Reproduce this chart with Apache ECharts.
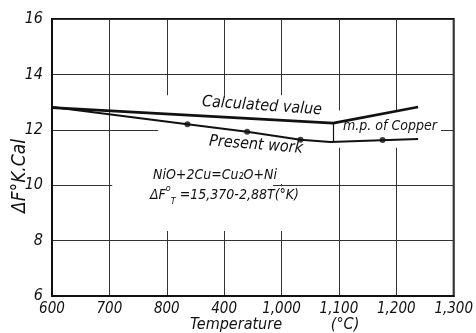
<!DOCTYPE html>
<html>
<head>
<meta charset="utf-8">
<script src="https://cdn.jsdelivr.net/npm/echarts@6/dist/echarts.min.js"></script>
<style>
  html, body { margin: 0; padding: 0; background: #fff; }
  #chart { width: 476px; height: 333px; }
</style>
</head>
<body>
<div id="chart"></div>
<script>
// tick labels as printed on the plate (the 900 tick reads "400")
var xTicks = [600, 700, 800, 900, 1000, 1100, 1200, 1300];
var xTickLabels = ['600', '700', '800', '400', '1,000', '1,100', '1,200', '1,300'];

// calculated value (straight segments, kink at m.p. of copper)
var calcTemp = [600, 1090, 1238];
var calcValue = [12.8, 12.24, 12.82];

// present work curve
var workTemp = [600, 836, 940, 1033, 1085, 1238];
var workValue = [12.82, 12.2, 11.93, 11.64, 11.56, 11.67];

// measured points
var pointTemp = [836, 940, 1033, 1176];
var pointValue = [12.2, 11.93, 11.64, 11.63];

// melting point of copper marker
var mpTemp = 1090;
var mpRange = [12.22, 11.58];

function pairs(xs, ys) {
  return xs.map(function (x, i) { return [x, ys[i]]; });
}

var FONT = '"Liberation Sans Narrow", "DejaVu Sans Condensed", sans-serif';

var chart = echarts.init(document.getElementById('chart'));

function label(x, y, text, size, rot) {
  return {
    type: 'text', x: x, y: y, rotation: rot || 0, z: 100,
    style: { text: text, align: 'center', verticalAlign: 'middle',
      font: 'italic ' + size + 'px ' + FONT, fill: '#111' }
  };
}

var option = {
  backgroundColor: '#fff',
  animation: false,
  grid: {
    left: 52, right: 18, top: 19, bottom: 37,
    show: true,
    borderColor: '#111',
    borderWidth: 2
  },
  xAxis: {
    type: 'value',
    min: 600, max: 1300, interval: 100,
    axisLine: { show: true, lineStyle: { color: '#111', width: 2 } },
    axisTick: { show: false },
    axisLabel: {
      margin: 6,
      color: '#111',
      fontSize: 15,
      fontStyle: 'italic',
      fontFamily: FONT,
      formatter: function (v) {
        var i = xTicks.indexOf(v);
        return i >= 0 ? xTickLabels[i] : '';
      }
    },
    splitLine: { show: true, lineStyle: { color: '#333', width: 1 } }
  },
  yAxis: {
    type: 'value',
    min: 6, max: 16, interval: 2,
    axisLine: { show: true, lineStyle: { color: '#111', width: 2 } },
    axisTick: { show: false },
    axisLabel: {
      margin: 9,
      color: '#111',
      fontSize: 16,
      fontStyle: 'italic',
      fontFamily: FONT
    },
    splitLine: { show: true, lineStyle: { color: '#333', width: 1 } }
  },
  series: [{
    name: 'Calculated value',
    type: 'line',
    data: pairs(calcTemp, calcValue),
    symbol: 'none',
    lineStyle: { color: '#111', width: 2.6 },
    z: 3,
    markLine: {
      silent: true,
      symbol: 'none',
      label: { show: false },
      lineStyle: { color: '#111', width: 1.2, type: 'solid' },
      data: [[{ coord: [mpTemp, mpRange[0]] }, { coord: [mpTemp, mpRange[1]] }]]
    }
  }, {
    name: 'Present work',
    type: 'line',
    data: pairs(workTemp, workValue),
    symbol: 'none',
    lineStyle: { color: '#111', width: 2 },
    z: 3
  }, {
    name: 'points',
    type: 'scatter',
    data: pairs(pointTemp, pointValue),
    symbolSize: 6,
    itemStyle: { color: '#111' },
    z: 4,
    // the plate leaves the grid blank behind the curves and the text
    markArea: {
      silent: true,
      itemStyle: { color: '#fff' },
      data: [
        [{ coord: [785, 10.04] }, { coord: [1090, 13.25] }],
        [{ coord: [785, 8.35] }, { coord: [985, 10.1] }],
        [{ coord: [990, 8.35] }, { coord: [1010, 9.96] }],
        [{ coord: [705, 9.93] }, { coord: [785, 10.07] }],
        [{ coord: [1090, 11.35] }, { coord: [1278, 12.7] }]
      ]
    }
  }],
  graphic: [
    label(20, 176, 'ΔF°K.Cal', 19, Math.PI / 2),
    label(236, 325, 'Temperature', 16),
    label(345, 325, '(°C)', 16),
    label(262, 106, 'Calculated value', 16, -0.07),
    label(256, 145, 'Present work', 16, -0.08),
    label(390, 126, 'm.p. of Copper', 14),
    {
      type: 'text', x: 153, y: 175, z: 100,
      style: { text: 'NiO+2Cu=Cu₂O+Ni', align: 'left', verticalAlign: 'middle',
        font: 'italic 14px ' + FONT, fill: '#111' }
    }, {
      type: 'text', x: 150, y: 195, z: 100,
      style: {
        text: '{t|ΔF}{sup|o}{sub|T}{t| =15,370-2,88T(°K)}',
        align: 'left', verticalAlign: 'middle',
        rich: {
          t: { font: 'italic 14px ' + FONT, fill: '#111', lineHeight: 22, verticalAlign: 'middle' },
          sup: { font: 'italic 9px ' + FONT, fill: '#111', lineHeight: 22, verticalAlign: 'top' },
          sub: { font: 'italic 9px ' + FONT, fill: '#111', lineHeight: 22, verticalAlign: 'bottom' }
        }
      }
    }
  ]
};

chart.setOption(option);
</script>
</body>
</html>
